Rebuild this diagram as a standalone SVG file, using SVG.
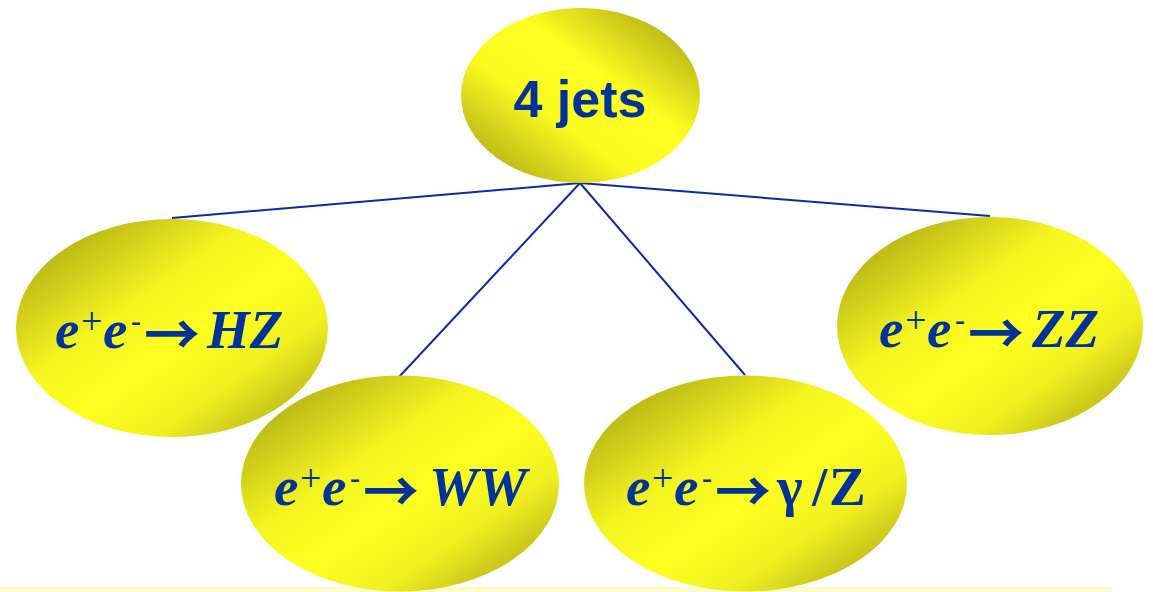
<svg xmlns="http://www.w3.org/2000/svg" width="1153" height="592" viewBox="0 0 1153 592">
<defs>
<linearGradient id="gTop" x1="1" y1="0" x2="0" y2="1">
<stop offset="0" stop-color="#9c9612"/>
<stop offset="0.4" stop-color="#ffff22"/>
<stop offset="0.62" stop-color="#fafa20"/>
<stop offset="1" stop-color="#9c9612"/>
</linearGradient>
<linearGradient id="gNode" x1="0" y1="0" x2="1" y2="1">
<stop offset="0" stop-color="#9c9612"/>
<stop offset="0.38" stop-color="#f4f420"/>
<stop offset="0.55" stop-color="#ffff22"/>
<stop offset="0.72" stop-color="#f0f020"/>
<stop offset="1" stop-color="#9c9612"/>
</linearGradient>
<style>
.conn{stroke:#0a2aa8;stroke-width:2;fill:none}
.lbl{font-family:"Liberation Serif","Times New Roman",serif;font-weight:bold;font-style:italic;font-size:55px;fill:#003399}
.sup{font-style:normal;font-weight:normal;font-size:38px}
.minus{font-style:normal;font-weight:bold;font-size:30px}
.arr{font-family:"Noto Sans CJK SC","DejaVu Sans",sans-serif;font-style:normal;font-weight:bold;font-size:56px;fill:#003399}
.up{font-style:normal}
.title{font-family:"Liberation Sans",Arial,sans-serif;font-weight:bold;font-size:52px;fill:#003399}
</style>
</defs>
<rect x="0" y="587" width="1112" height="5" fill="#fdfdcc"/>
<g id="connectors">
<line class="conn" x1="580" y1="183" x2="172" y2="218"/>
<line class="conn" x1="580" y1="183" x2="990" y2="216"/>
<line class="conn" x1="580" y1="183" x2="399" y2="377"/>
<line class="conn" x1="580" y1="183" x2="745" y2="375"/>
</g>
<g id="node-4jets">
<ellipse cx="580.5" cy="95.5" rx="119.5" ry="87.5" fill="url(#gTop)"/>
<text class="title" x="580" y="117" text-anchor="middle">4 jets</text>
</g>
<g id="node-HZ">
<ellipse cx="172" cy="328" rx="156" ry="109" fill="url(#gNode)"/>
<text class="lbl" y="348"><tspan x="55">e</tspan><tspan class="sup" x="81" y="334">+</tspan><tspan x="103" y="348">e</tspan><tspan class="minus" x="131" y="331">-</tspan><tspan x="207" y="348">HZ</tspan></text>
<text class="arr" x="144" y="355">→</text>
</g>
<g id="node-WW">
<ellipse cx="400" cy="483.5" rx="159" ry="108" fill="url(#gNode)"/>
<text class="lbl" y="505"><tspan x="274">e</tspan><tspan class="sup" x="300" y="491">+</tspan><tspan x="322" y="505">e</tspan><tspan class="minus" x="350" y="488">-</tspan><tspan x="429" y="505">WW</tspan></text>
<text class="arr" x="363" y="512">→</text>
</g>
<g id="node-gammaZ">
<ellipse cx="745.5" cy="483.5" rx="161.5" ry="108" fill="url(#gNode)"/>
<text class="lbl" y="505"><tspan x="626">e</tspan><tspan class="sup" x="652" y="491">+</tspan><tspan x="674" y="505">e</tspan><tspan class="minus" x="702" y="488">-</tspan><tspan class="up" x="777" y="505">γ</tspan><tspan class="up" x="812" y="505">/</tspan><tspan class="up" x="829" y="505">Z</tspan></text>
<text class="arr" x="715" y="512">→</text>
</g>
<g id="node-ZZ">
<ellipse cx="990" cy="326" rx="153" ry="109" fill="url(#gNode)"/>
<text class="lbl" y="347"><tspan x="879">e</tspan><tspan class="sup" x="905" y="333">+</tspan><tspan x="927" y="347">e</tspan><tspan class="minus" x="955" y="330">-</tspan><tspan x="1032" y="347">ZZ</tspan></text>
<text class="arr" x="968" y="354">→</text>
</g>
</svg>
